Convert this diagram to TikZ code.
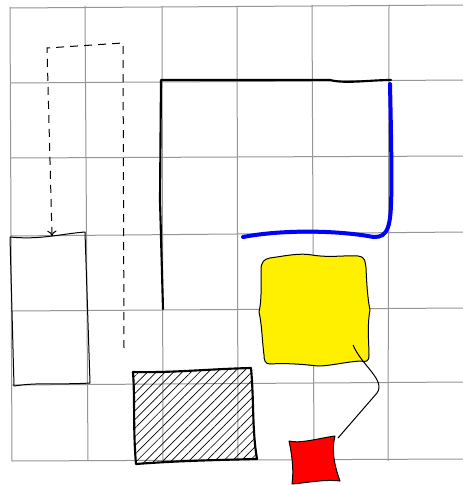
\documentclass[tikz,border=0pt]{standalone}
\usetikzlibrary{patterns.meta,arrows.meta}
\definecolor{gridgray}{RGB}{150,150,150}
\definecolor{hyellow}{RGB}{255,240,0}
\tikzset{
  gridline/.style={draw=gridgray,line width=0.75pt},
  thinbox/.style={draw=black,line width=0.75pt,line join=round},
  thickline/.style={draw=black,line width=1.6pt,line join=round,line cap=round},
  bluecurve/.style={draw=blue,line width=3pt,line cap=round},
  dashedarrow/.style={draw=black,line width=0.75pt,dash pattern=on 6pt off 4.5pt,-{To[length=4pt,width=7pt]}},
  hatchbox/.style={draw=black,line width=1.6pt,line join=round,pattern={Lines[angle=45,distance=4.6pt,line width=0.5pt]}},
  fillbox/.style={draw=black,line width=0.75pt,line join=round},
}
\begin{document}
\begin{tikzpicture}[x=0.75pt,y=-0.75pt]
\useasboundingbox (0,0) rectangle (463,485);
\fill[white] (0,0) rectangle (463,485);
% grid
\draw[gridline] (10,8) -- (463,5);
\draw[gridline] (11,83) -- (463,80);
\draw[gridline] (11,158) -- (463,156);
\draw[gridline] (10,236) -- (463,232);
\draw[gridline] (12,311) -- (463,308);
\draw[gridline] (12,385) -- (463,382);
\draw[gridline] (12,461) -- (463,459);
\draw[gridline] (10,7) -- (12,461);
\draw[gridline] (85,6) -- (88,461);
\draw[gridline] (162,6) -- (163,461);
\draw[gridline] (237,6) -- (238,461);
\draw[gridline] (312,5) -- (314,461);
\draw[gridline] (389,5) -- (388,461);
% dashed arrow
\coordinate (da0) at (124,348);
\coordinate (da1) at (123,43);
\coordinate (da2) at (47,48);
\coordinate (da3) at (52,236);
\draw[dashedarrow] (da0) -- (da1) -- (da2) -- (da3);
% left rectangle
\draw[thinbox] (10,237) .. controls (40,240) and (60,234) .. (85,232) -- (90,383) .. controls (60,385) and (40,382) .. (14,386) -- cycle;
% black L line
\coordinate (l0) at (163,309);
\coordinate (l1) at (161,80);
\coordinate (l2) at (391,80);
\draw[thickline] (l0) -- (160,200) -- (l1) -- (330,80) .. controls (345,84) and (370,80) .. (l2);
% blue curve
\coordinate (b0) at (390,84);
\coordinate (b1) at (243,237);
\draw[bluecurve] (b0) .. controls (391,130) and (392,180) .. (391,205)
  .. controls (390,232) and (385,240) .. (368,236)
  .. controls (330,230) and (280,230) .. (b1);
% yellow shape
\coordinate (yel) at (314,310);
\filldraw[fillbox,fill=hyellow] (270,258)
  .. controls (290,255) and (300,253) .. (312,255)
  .. controls (330,258) and (345,255) .. (358,256)
  .. controls (366,257) and (365,262) .. (366,268)
  .. controls (367,290) and (368,300) .. (370,310)
  .. controls (367,325) and (369,345) .. (369,355)
  .. controls (369,362) and (366,362) .. (360,361)
  .. controls (345,362) and (330,366) .. (318,366)
  .. controls (300,364) and (285,363) .. (270,364)
  .. controls (265,364) and (264,360) .. (264,355)
  .. controls (262,340) and (262,325) .. (259,312)
  .. controls (262,300) and (261,280) .. (261,270)
  .. controls (261,262) and (264,259) .. cycle;
% hatched rectangle
\draw[hatchbox] (133,372) .. controls (170,373) and (210,369) .. (251,368) .. controls (254,400) and (252,430) .. (257,459) .. controls (215,460) and (175,461) .. (136,464) .. controls (133,430) and (135,400) .. cycle;
% red square
\coordinate (red) at (314,461);
\filldraw[fillbox,fill=red] (289,441)
  .. controls (300,444) and (320,438) .. (335,436)
  .. controls (331,450) and (335,468) .. (340,481)
  .. controls (325,479) and (305,483) .. (292,484)
  .. controls (294,470) and (292,455) .. cycle;
% connector
\coordinate (c0) at (353,345);
\coordinate (c1) at (338,438);
\draw[black,line width=0.75pt] (c0) .. controls (362,366) and (386,380) .. (377,393) -- (c1);
\end{tikzpicture}
\end{document}
